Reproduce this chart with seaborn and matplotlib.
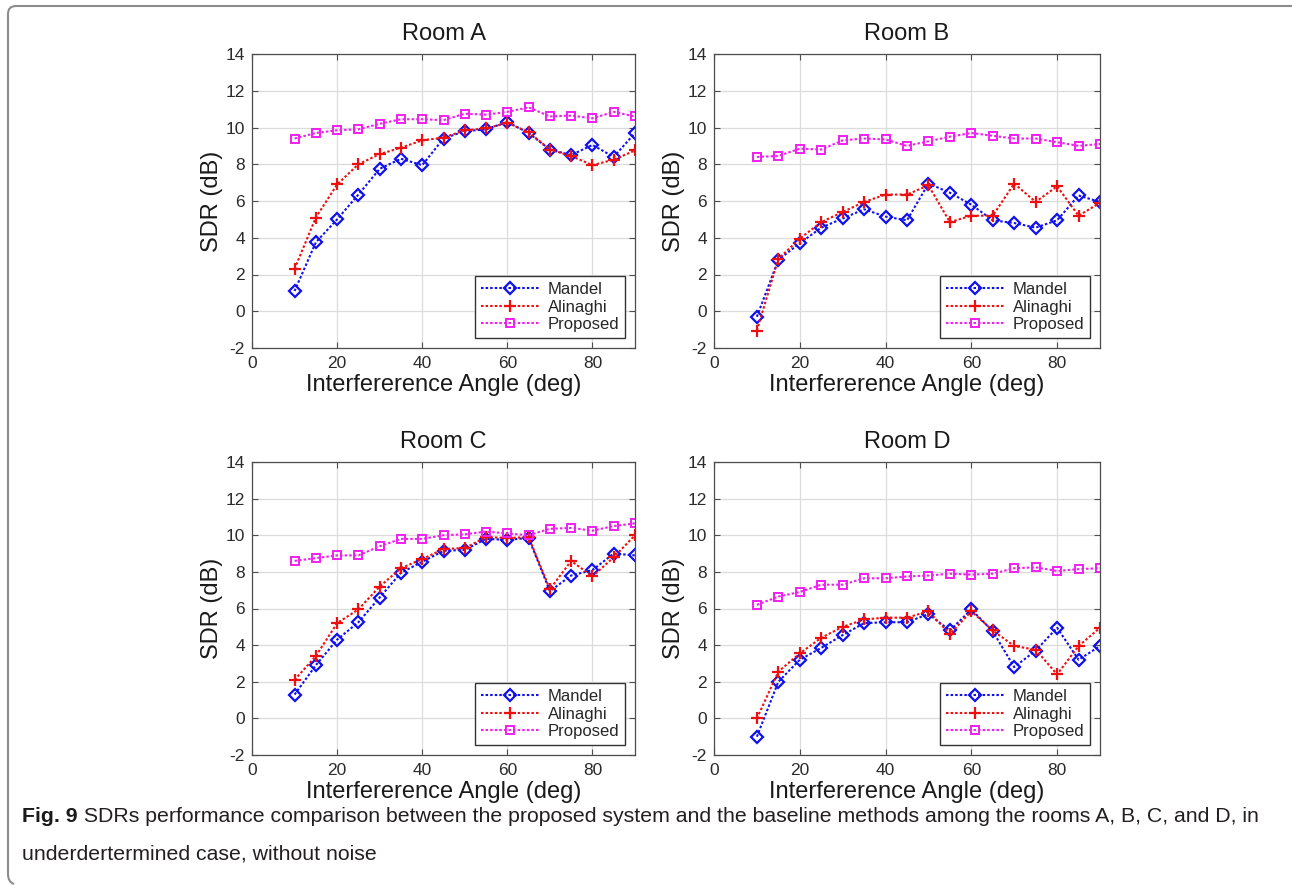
import matplotlib
matplotlib.use('Agg')
import matplotlib.pyplot as plt
import seaborn as sns
from matplotlib.path import Path
from matplotlib.patches import PathPatch

angles = [10, 15, 20, 25, 30, 35, 40, 45, 50, 55, 60, 65, 70, 75, 80, 85, 90]

mandel_a = [1.1, 3.75, 5.0, 6.35, 7.75, 8.3, 7.95, 9.4, 9.8, 9.9, 10.3, 9.7, 8.8, 8.5, 9.05, 8.4, 9.7]
alinaghi_a = [2.3, 5.1, 6.9, 8.0, 8.55, 8.9, 9.3, 9.45, 9.85, 9.95, 10.25, 9.75, 8.8, 8.45, 7.95, 8.25, 8.75]
proposed_a = [9.4, 9.7, 9.85, 9.9, 10.2, 10.45, 10.45, 10.4, 10.75, 10.7, 10.85, 11.1, 10.6, 10.65, 10.5, 10.85, 10.6]

mandel_b = [-0.3, 2.8, 3.7, 4.55, 5.05, 5.55, 5.15, 4.95, 6.95, 6.45, 5.8, 4.95, 4.8, 4.55, 4.95, 6.3, 5.95]
alinaghi_b = [-1.05, 2.85, 3.95, 4.85, 5.4, 5.95, 6.35, 6.35, 6.85, 4.85, 5.2, 5.2, 6.95, 5.95, 6.8, 5.2, 5.9]
proposed_b = [8.4, 8.45, 8.85, 8.8, 9.3, 9.4, 9.35, 9.0, 9.25, 9.5, 9.7, 9.55, 9.4, 9.4, 9.2, 9.0, 9.1]

mandel_c = [1.3, 2.9, 4.3, 5.25, 6.6, 7.95, 8.55, 9.15, 9.2, 9.8, 9.75, 9.85, 6.95, 7.8, 8.1, 9.0, 8.9]
alinaghi_c = [2.1, 3.4, 5.2, 5.95, 7.2, 8.2, 8.7, 9.25, 9.3, 9.9, 9.85, 9.9, 7.05, 8.6, 7.75, 8.8, 10.0]
proposed_c = [8.6, 8.75, 8.9, 8.9, 9.4, 9.8, 9.8, 10.0, 10.05, 10.2, 10.1, 10.0, 10.35, 10.4, 10.25, 10.5, 10.65]

mandel_d = [-1.0, 2.0, 3.2, 3.85, 4.55, 5.2, 5.25, 5.25, 5.7, 4.8, 5.95, 4.75, 2.8, 3.7, 4.95, 3.2, 3.95]
alinaghi_d = [0.0, 2.55, 3.55, 4.4, 5.0, 5.4, 5.5, 5.5, 5.85, 4.6, 5.85, 4.8, 3.95, 3.75, 2.4, 3.95, 4.95]
proposed_d = [6.2, 6.65, 6.9, 7.3, 7.3, 7.65, 7.65, 7.75, 7.8, 7.9, 7.85, 7.9, 8.2, 8.25, 8.05, 8.15, 8.2]

rooms = ['Room A', 'Room B', 'Room C', 'Room D']
series_names = ['Mandel', 'Alinaghi', 'Proposed']
room_data = {
    'Room A': [mandel_a, alinaghi_a, proposed_a],
    'Room B': [mandel_b, alinaghi_b, proposed_b],
    'Room C': [mandel_c, alinaghi_c, proposed_c],
    'Room D': [mandel_d, alinaghi_d, proposed_d],
}

sns.set_style('whitegrid')
plt.rcParams['font.family'] = ['Liberation Sans', 'DejaVu Sans']
plt.rcParams['axes.unicode_minus'] = False

W, H = 1292, 885
fig = plt.figure(figsize=(W / 100, H / 100), dpi=100)

# axes boxes in pixels: left, top, right, bottom
boxes = {
    'Room A': (252, 54, 635, 348),
    'Room B': (714, 54, 1100, 348),
    'Room C': (252, 462, 635, 755),
    'Room D': (714, 462, 1100, 755),
}

styles = [
    dict(color='#1010ee', marker='D', markersize=6, markerfacecolor='none',
         markeredgecolor='#1010ee', markeredgewidth=1.6),
    dict(color='#ee1010', marker='+', markersize=8, markerfacecolor='none',
         markeredgecolor='#ee1010', markeredgewidth=1.6),
    dict(color='#f020f0', marker='s', markersize=6, markerfacecolor='none',
         markeredgecolor='#f020f0', markeredgewidth=1.4),
]

for room in rooms:
    l, t, r, b = boxes[room]
    ax = fig.add_axes([l / W, 1 - b / H, (r - l) / W, (b - t) / H])
    for name, vals, st in zip(series_names, room_data[room], styles):
        sns.lineplot(x=angles, y=vals, ax=ax, label=name, linestyle=(0, (1.2, 1.0)),
                     linewidth=1.5, **st)
    ax.set_xlim(0, 90)
    ax.set_ylim(-2, 14)
    ax.set_xticks([0, 20, 40, 60, 80])
    ax.set_yticks(range(-2, 15, 2))
    ax.grid(True, color='#dcdcdc', linewidth=0.9)
    for sp in ax.spines.values():
        sp.set_color('#4d4d4d')
        sp.set_linewidth(0.9)
    ax.tick_params(direction='in', length=4, width=0.8, top=True, right=True,
                   bottom=True, left=True, colors='#4d4d4d', labelcolor='#2b2b2b',
                   labelsize=12.5, pad=5)
    ax.tick_params(axis='x', pad=6)
    ax.set_title(room, fontsize=17, color='#1a1a1a', pad=10)
    ax.set_xlabel('Interfererence Angle (deg)', fontsize=17, color='#1a1a1a', labelpad=2)
    ax.set_ylabel('SDR (dB)', fontsize=17, color='#1a1a1a', labelpad=2)
    leg = ax.legend(loc='lower right', fontsize=12, handlelength=3.5,
                    labelspacing=0.15, borderaxespad=0.6, fancybox=False,
                    framealpha=1, edgecolor='#333333', borderpad=0.35,
                    handletextpad=0.5)
    leg.get_frame().set_linewidth(1.0)

# frame around figure (top and left edges with rounded corners)
px = lambda x, y: (x / W, 1 - y / H)
verts = [px(1292, 6), px(16, 6), px(8, 6), px(8, 14), px(8, 874), px(8, 882), px(14, 884)]
codes = [Path.MOVETO, Path.LINETO, Path.CURVE3, Path.CURVE3, Path.LINETO, Path.CURVE3, Path.CURVE3]
fig.patches.append(PathPatch(Path(verts, codes), transform=fig.transFigure,
                             fill=False, edgecolor='#8c8c8c', linewidth=1.5))

# caption
cap_font = ['Liberation Sans', 'DejaVu Sans']
fig.canvas.draw()
renderer = fig.canvas.get_renderer()
line1_rest = (' SDRs performance comparison between the proposed system and the baseline '
              'methods among the rooms A, B, C, and D, in')
line2 = 'underdertermined case, without noise'
probe = fig.text(0, 0, 'Fig. 9' + line1_rest, fontsize=10, family=cap_font)
pw = probe.get_window_extent(renderer).width
probe.remove()
cap_size = 10 * (1234 / pw)

t1 = fig.text(22 / W, 1 - 822 / H, 'Fig. 9', fontsize=cap_size, family=cap_font,
              fontweight='bold', color='#1a1a1a', va='baseline')
bw = t1.get_window_extent(renderer).width
fig.text((22 + bw) / W, 1 - 822 / H, line1_rest, fontsize=cap_size, family=cap_font,
         color='#231f20', va='baseline')
fig.text(22 / W, 1 - 860 / H, line2, fontsize=cap_size, family=cap_font,
         color='#231f20', va='baseline')

fig.savefig('out.png', dpi=100)
